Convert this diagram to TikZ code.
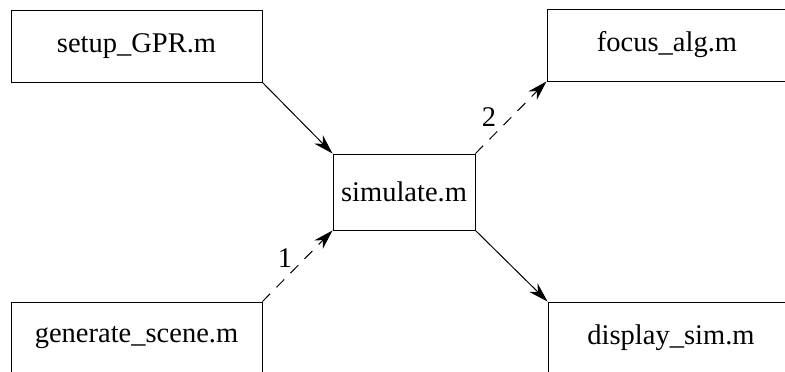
\documentclass[tikz,border=0pt]{standalone}
\usepackage{fontspec}
\setmainfont{Liberation Serif}
\usetikzlibrary{arrows.meta}
\begin{document}
\begin{tikzpicture}[x=1pt,y=-1pt,
  module/.style={draw, line width=0.9pt, rectangle, inner sep=0pt,
    font=\fontsize{28.5}{34}\selectfont},
  flow/.style={line width=1pt, -{Stealth[length=20pt,width=12pt]}},
  dataflow/.style={flow, dash pattern=on 11pt off 9pt},
  steplabel/.style={font=\fontsize{28.5}{34}\selectfont, inner sep=0pt}]
  \clip (0,0) rectangle (785,372);
  \fill[white] (0,0) rectangle (785,372);

  % program modules
  \node[module, minimum width=251pt, minimum height=72pt] (setup) at (136.5,46) {setup\_GPR.m};
  \node[module, minimum width=240pt, minimum height=72pt] (focus) at (667,45) {focus\_alg.m};
  \node[module, minimum width=142pt, minimum height=76pt] (sim) at (404,192) {simulate.m};
  \node[module, minimum width=251pt, minimum height=72pt] (gen) at (136.5,338) {generate\_scene.m};
  \node[module, minimum width=246pt, minimum height=72pt] (disp) at (671,338) {display\_sim.m};

  % calls between modules
  \draw[flow] (setup.south east) -- (sim.north west);
  \draw[flow] (sim.south east) -- (disp.north west);
  \draw[dataflow] (gen.north east) -- (sim.south west);
  \draw[dataflow] (sim.north east) -- (focus.south west);

  % call order
  \node[steplabel] (n1) at (285,258) {1};
  \node[steplabel] (n2) at (489,117) {2};
\end{tikzpicture}
\end{document}
